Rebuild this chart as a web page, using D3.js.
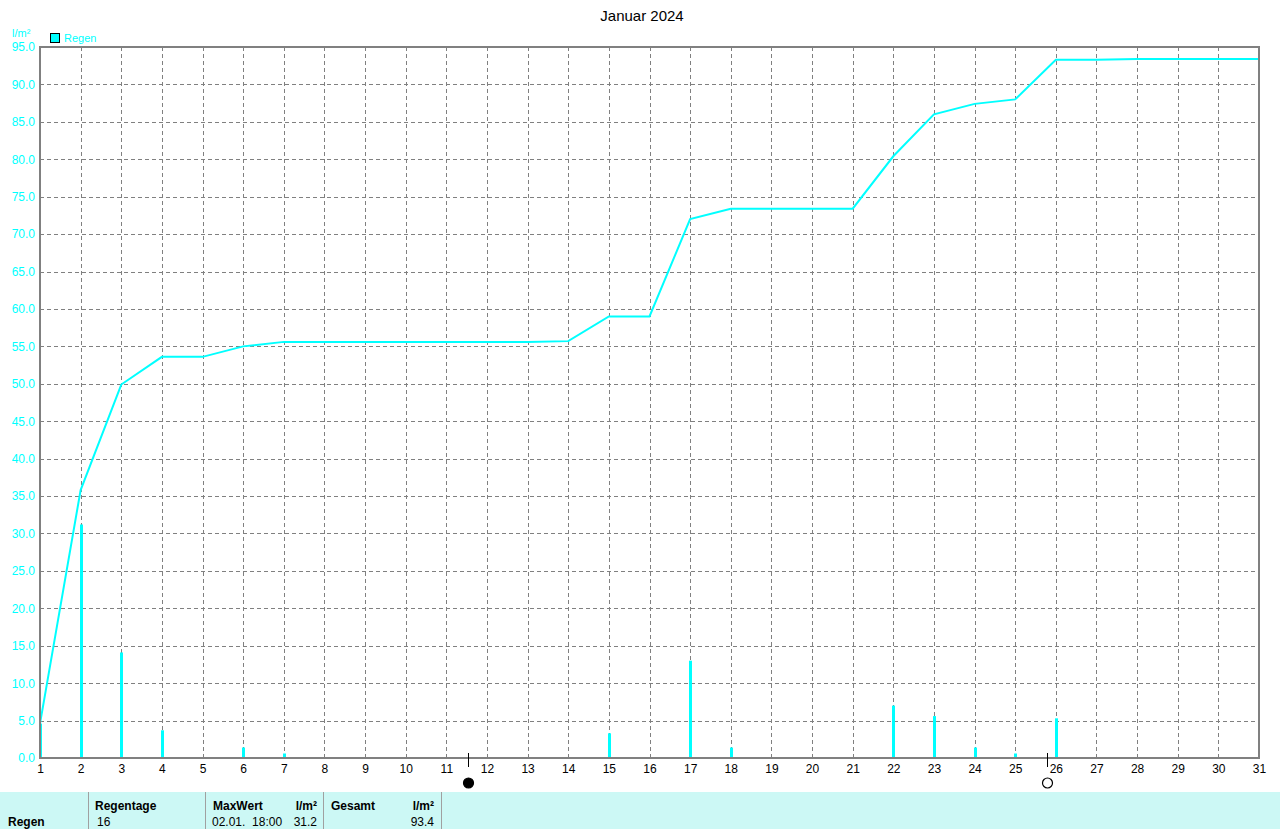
<!DOCTYPE html>
<html><head><meta charset="utf-8">
<script src="https://cdn.jsdelivr.net/npm/d3@7"></script>
<style>body{margin:0;background:#fff;overflow:hidden}svg{display:block}</style>
</head><body>
<script>
const days = d3.range(1, 32);
const rainDays = [1, 2, 3, 4, 6, 7, 14, 15, 17, 18, 22, 23, 24, 25, 26, 28];
const rainValues = [4.6, 31.2, 14.1, 3.7, 1.4, 0.6, 0.1, 3.3, 13.0, 1.4, 7.0, 5.6, 1.4, 0.6, 5.3, 0.1];
const cumulative = [4.6, 35.8, 49.9, 53.6, 53.6, 55.0, 55.6, 55.6, 55.6, 55.6, 55.6, 55.6, 55.6, 55.7, 59.0, 59.0,
  72.0, 73.4, 73.4, 73.4, 73.4, 80.4, 86.0, 87.4, 88.0, 93.3, 93.3, 93.4, 93.4, 93.4, 93.4];
const yTicks = d3.range(0, 96, 5);
const moonPhases = [{day: 11.54, type: "new"}, {day: 25.79, type: "full"}];
const title = "Januar 2024";
const unit = "l/m²";
const seriesName = "Regen";
const tableHeaders = ["Regentage", "MaxWert", "l/m²", "Gesamt", "l/m²"];
const tableValues = ["16", "02.01.  18:00", "31.2", "", "93.4"];

const W = 1280, H = 829;
const L = 40, R = 1259, T = 47, B = 758;
const font = "'Liberation Sans', Arial, sans-serif";
const cyan = "#00FFFF";

const svg = d3.select("body").append("svg").attr("width", W).attr("height", H)
  .style("font-family", font);

const x = d3.scaleLinear().domain([1, 31]).range([L, R]);
const y = d3.scaleLinear().domain([0, 95]).range([B, T]);

// grid
const grid = svg.append("g").attr("stroke", "#808080").attr("stroke-width", 1).attr("stroke-dasharray", "4,3");
grid.selectAll("line.v").data(days.slice(1, -1)).join("line")
  .attr("x1", d => Math.round(x(d)) + 0.5).attr("x2", d => Math.round(x(d)) + 0.5)
  .attr("y1", T).attr("y2", B);
grid.selectAll("line.h").data(yTicks.slice(1, -1)).join("line")
  .attr("x1", L).attr("x2", R)
  .attr("y1", d => Math.round(y(d)) + 0.5).attr("y2", d => Math.round(y(d)) + 0.5);

// bars
svg.append("g").selectAll("rect").data(rainDays.map((d, i) => ({d, v: rainValues[i]}))).join("rect")
  .attr("x", d => Math.round(x(d.d)) - 1).attr("width", 3)
  .attr("y", d => y(d.v)).attr("height", d => B - y(d.v))
  .attr("fill", cyan);

// cumulative line
svg.append("path").datum(cumulative)
  .attr("fill", "none").attr("stroke", cyan).attr("stroke-width", 2)
  .attr("d", d3.line().x((d, i) => x(days[i])).y(d => y(d)));

// frame
svg.append("path").attr("fill", "none").attr("stroke", "#808080").attr("stroke-width", 2)
  .attr("d", `M${L},${T}H${R}V${B}H${L}Z`);

// y axis labels
const yAxis = d3.axisLeft(y).tickValues(yTicks).tickFormat(d3.format(".1f")).tickSize(0).tickPadding(5);
const gy = svg.append("g").attr("transform", `translate(${L},0)`).call(yAxis);
gy.select(".domain").remove();
gy.selectAll("text").attr("fill", cyan).style("font-size", "12px").style("font-family", font);

// x axis labels
const xAxis = d3.axisBottom(x).tickValues(days).tickFormat(d3.format("d")).tickSize(0).tickPadding(6);
const gx = svg.append("g").attr("transform", `translate(0,${B})`).call(xAxis);
gx.select(".domain").remove();
gx.selectAll("text").attr("fill", "#000").style("font-size", "12px").style("font-family", font);

// moon phases
const mg = svg.append("g");
moonPhases.forEach(m => {
  const mx = Math.round(x(m.day)) + 0.5;
  mg.append("line").attr("x1", mx).attr("x2", mx).attr("y1", 753).attr("y2", 767).attr("stroke", "#000");
  mg.append("circle").attr("cx", mx).attr("cy", 783).attr("r", 5)
    .attr("fill", m.type === "new" ? "#000" : "#fff").attr("stroke", "#000").attr("stroke-width", 1.2);
});

// title
svg.append("text").attr("x", 642).attr("y", 21).attr("text-anchor", "middle")
  .style("font-size", "15px").attr("fill", "#000").text(title);

// unit & legend
svg.append("text").attr("x", 12).attr("y", 37).attr("fill", cyan).style("font-size", "11px").text(unit);
svg.append("rect").attr("x", 50.5).attr("y", 33.5).attr("width", 9).attr("height", 9)
  .attr("fill", cyan).attr("stroke", "#000");
svg.append("text").attr("x", 64).attr("y", 42).attr("fill", cyan).style("font-size", "11px").text(seriesName);

// bottom table
const tb = svg.append("g");
tb.append("rect").attr("x", 0).attr("y", 792).attr("width", W).attr("height", H - 792).attr("fill", "#CCF8F5");
[88, 205, 323, 441].forEach(sx => {
  tb.append("line").attr("x1", sx + 0.5).attr("x2", sx + 0.5).attr("y1", 792).attr("y2", H)
    .attr("stroke", "#a0a0a0").attr("stroke-width", 1);
});
function t(xp, yp, s, anchor, b) {
  const e = tb.append("text").attr("x", xp).attr("y", yp).attr("text-anchor", anchor || "start")
    .attr("fill", "#000").style("font-size", "12px").style("white-space", "pre").text(s);
  if (b) e.style("font-weight", "bold");
}
t(8, 826, seriesName, "start", true);
t(95, 810, tableHeaders[0], "start", true);
t(213, 810, tableHeaders[1], "start", true);
t(317, 810, tableHeaders[2], "end", true);
t(331, 810, tableHeaders[3], "start", true);
t(434, 810, tableHeaders[4], "end", true);
t(97, 826, tableValues[0], "start", false);
t(212, 826, tableValues[1], "start", false);
t(317, 826, tableValues[2], "end", false);
t(434, 826, tableValues[4], "end", false);
</script>
</body></html>
